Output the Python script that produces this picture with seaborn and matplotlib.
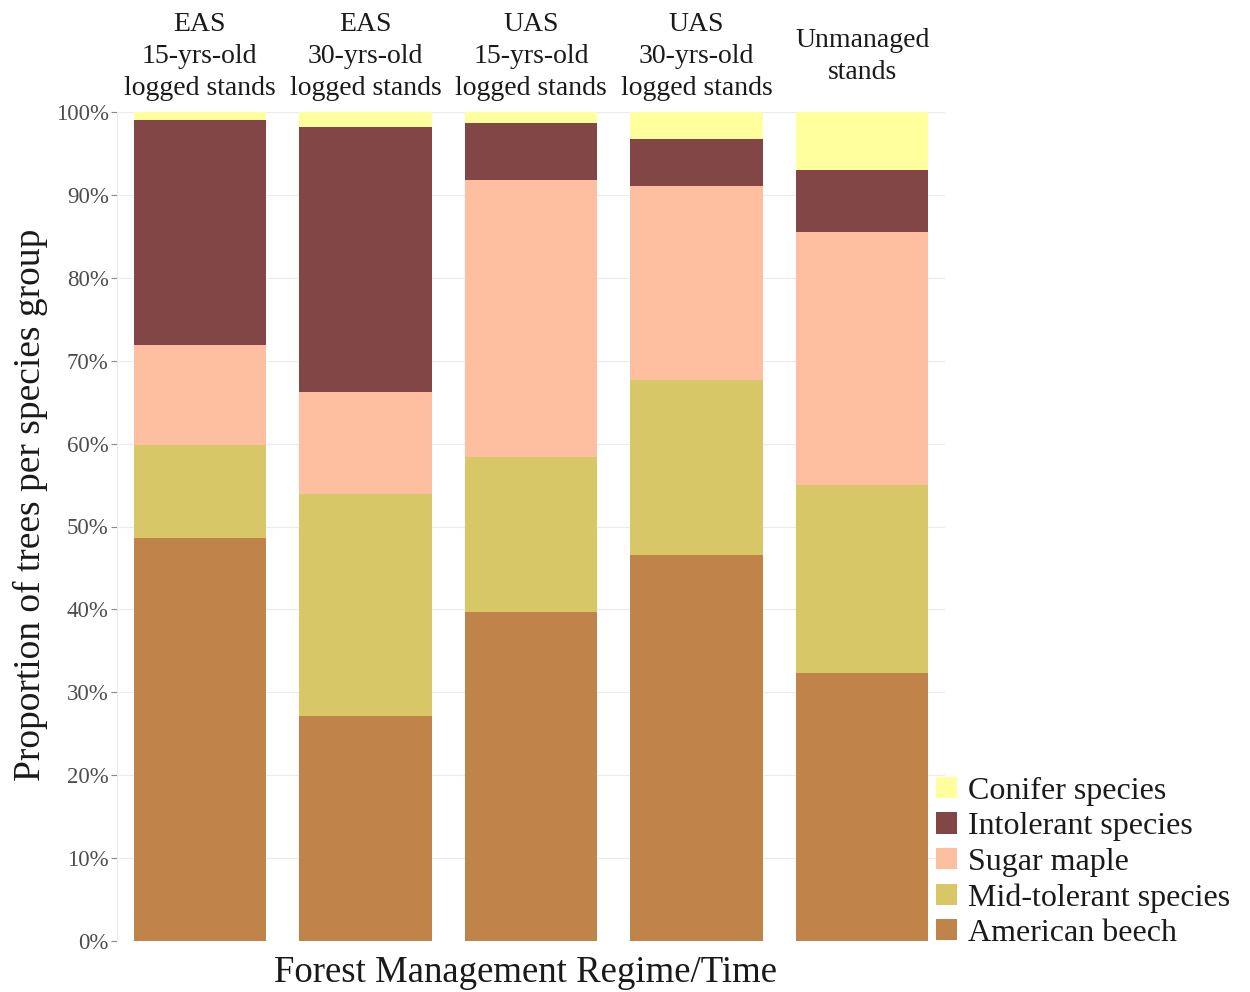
import matplotlib
matplotlib.use("Agg")
import matplotlib.pyplot as plt
import seaborn as sns
import numpy as np
import pandas as pd
from matplotlib.patches import Patch

# stand categories (top tick labels)
stands = [
    "EAS\n15-yrs-old\nlogged stands",
    "EAS\n30-yrs-old\nlogged stands",
    "UAS\n15-yrs-old\nlogged stands",
    "UAS\n30-yrs-old\nlogged stands",
    "Unmanaged\nstands",
]

# species groups, bottom to top
groups = ["American beech", "Mid-tolerant species", "Sugar maple",
          "Intolerant species", "Conifer species"]

# proportions (%) per group
american_beech = [48.6, 27.1, 39.7, 46.6, 32.3]
mid_tolerant = [11.2, 26.8, 18.7, 21.1, 22.7]
sugar_maple = [12.1, 12.3, 33.4, 23.4, 30.5]
intolerant = [27.1, 32.0, 6.9, 5.6, 7.5]
conifer = [1.0, 1.8, 1.3, 3.3, 7.0]

colors = {
    "American beech": "#C0834A",
    "Mid-tolerant species": "#D8C767",
    "Sugar maple": "#FEBFA0",
    "Intolerant species": "#834646",
    "Conifer species": "#FFFF9E",
}

values = [american_beech, mid_tolerant, sugar_maple, intolerant, conifer]
df = pd.DataFrame({g: v for g, v in zip(groups, values)}, index=stands)
cum = df.cumsum(axis=1)

sns.set_theme(style="white")
plt.rcParams['font.family'] = ['Liberation Serif', 'DejaVu Serif']

fig = plt.figure(figsize=(12.5, 9.92), dpi=100)
ax = fig.add_axes([117 / 1250, 51 / 992, 828 / 1250, 829 / 992])

# draw cumulative totals from top group down so each overlays the previous
for g in reversed(groups):
    sub = pd.DataFrame({"stand": stands, "value": cum[g].values})
    sns.barplot(data=sub, x="stand", y="value", color=colors[g],
                width=0.8, saturation=1, linewidth=0, ax=ax)

ax.set_xlim(-0.5, 4.5)
ax.set_ylim(0, 100)
ax.set_yticks(np.arange(0, 101, 10))
ax.set_yticklabels([f"{t}%" for t in range(0, 101, 10)],
                   fontsize=16.5, color="#4d4d4d")
ax.tick_params(axis="y", which="both", left=True, length=4, width=0.8,
               color="#888888", pad=2)
ax.yaxis.grid(True, color="#ebebeb", linewidth=0.8)
ax.set_axisbelow(True)

# group labels on top, vertically centred like ggplot's vjust = 0.5
ax.xaxis.tick_top()
ax.tick_params(axis="x", length=0, pad=40, labelsize=20, labelcolor="#1a1a1a")
ax.set_xticks(range(len(stands)))
ax.set_xticklabels(stands, linespacing=1.38)
for lbl in ax.get_xticklabels():
    lbl.set_verticalalignment("center")

for side in ["top", "right", "bottom"]:
    ax.spines[side].set_visible(False)
ax.spines["left"].set_color("#ebebeb")
ax.spines["left"].set_linewidth(0.8)

ax.set_xlabel("")
ax.set_ylabel("")
fig.text(525 / 1250, 2 / 992, "Forest Management Regime/Time",
         fontsize=26.5, color="#1a1a1a", ha="center", va="bottom")
fig.text(30 / 1250, 1 - 505 / 992, "Proportion of trees per species group",
         fontsize=27, color="#1a1a1a", ha="center", va="center", rotation=90)

handles = [Patch(facecolor=colors[g], edgecolor="none", label=g)
           for g in reversed(groups)]
fig.legend(handles=handles, loc="lower left",
           bbox_to_anchor=(936 / 1250, 44 / 992), frameon=False,
           fontsize=23, handlelength=0.65, handleheight=0.65,
           handletextpad=0.35, labelspacing=0.2, borderaxespad=0,
           borderpad=0, labelcolor="#1a1a1a")

fig.savefig("out.png", dpi=100)
